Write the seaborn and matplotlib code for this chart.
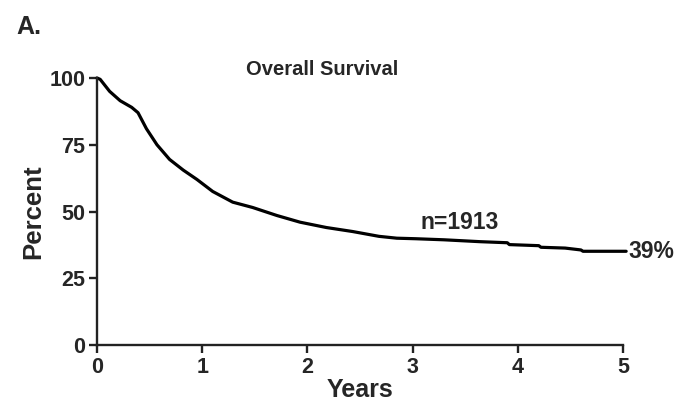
import matplotlib
matplotlib.use("Agg")
import matplotlib.pyplot as plt
import seaborn as sns
import pandas as pd

# Kaplan-Meier overall survival curve
years = [0.0, 0.03, 0.07, 0.12, 0.22, 0.33, 0.39, 0.47, 0.57, 0.69, 0.82, 0.95,
         1.10, 1.29, 1.48, 1.71, 1.93, 2.18, 2.43, 2.68, 2.85, 3.03, 3.30, 3.64,
         3.90, 3.92, 4.20, 4.22, 4.45, 4.60, 4.62, 5.03]
percent = [100, 99.5, 97.5, 95, 91.5, 89, 87, 81, 75, 69.5, 65.5, 62,
           57.5, 53.5, 51.5, 48.5, 46, 44, 42.5, 40.7, 40, 39.8, 39.4, 38.7,
           38.3, 37.6, 37.2, 36.6, 36.3, 35.6, 35.1, 35.1]
x_ticks = [0, 1, 2, 3, 4, 5]
y_ticks = [0, 25, 50, 75, 100]
title = "Overall Survival"
panel = "A."
n_label = "n=1913"
end_label = "39%"

df = pd.DataFrame({"Years": years, "Percent": percent})

sns.set_style("white")
plt.rcParams["font.family"] = ["Liberation Sans", "DejaVu Sans"]
plt.rcParams["font.weight"] = "bold"

fig = plt.figure(figsize=(6.82, 4.16), dpi=100)
ax = fig.add_axes([97 / 682, (416 - 345) / 416, (623 - 97) / 682, (345 - 78) / 416])

sns.lineplot(data=df, x="Years", y="Percent", color="black", lw=2.3, ax=ax,
             clip_on=False)

ax.set_xlim(0, 5)
ax.set_ylim(0, 100)
ax.set_xticks(x_ticks)
ax.set_yticks(y_ticks)
ax.set_xticklabels([str(t) for t in x_ticks], fontsize=15.5, fontweight="bold")
ax.set_yticklabels([str(t) for t in y_ticks], fontsize=15.5, fontweight="bold")
sns.despine(ax=ax)
for s in ["left", "bottom"]:
    ax.spines[s].set_linewidth(1.7)
    ax.spines[s].set_color("#222222")
ax.tick_params(axis="both", direction="out", length=6, width=1.7, color="#222222",
               left=True, bottom=True, pad=2.5)

ax.set_xlabel("Years", fontsize=18, fontweight="bold", labelpad=0)
ax.set_ylabel("Percent", fontsize=18.5, fontweight="bold", labelpad=3)

ax.text(2.14, 103, title, ha="center", va="center", fontsize=14.5, fontweight="bold")
ax.text(3.45, 46, n_label, ha="center", va="center", fontsize=16.5, fontweight="bold")
ax.text(5.05, 35.1, end_label, ha="left", va="center", fontsize=16.5,
        fontweight="bold", clip_on=False)
fig.text(16 / 682, 1 - 27 / 416, panel, ha="left", va="center", fontsize=18,
         fontweight="bold")

fig.savefig("out.png", dpi=100)
